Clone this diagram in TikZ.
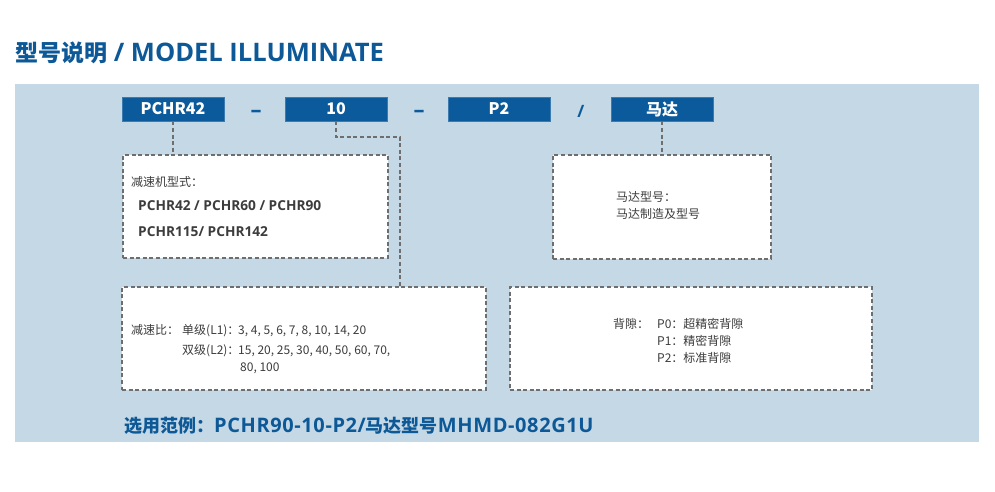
\documentclass[tikz,border=0pt]{standalone}
\usepackage{fontspec}
\newfontfamily\cjk{Noto Sans CJK SC}
\newfontfamily\lat{Open Sans}
\newfontfamily\latwide[LetterSpace=3]{Open Sans}
\usetikzlibrary{positioning}

\definecolor{panelblue}{HTML}{C5D8E6}
\definecolor{tagblue}{HTML}{0B5A9B}
\definecolor{titleblue}{HTML}{0D5896}
\definecolor{dashgray}{HTML}{6E6E6E}
\definecolor{textgray}{HTML}{3C3C3C}

\begin{document}
\begin{tikzpicture}[x=1pt,y=-1pt]
    \tikzset{tag/.style = {rectangle, fill=tagblue, draw=tagblue!80!white, line width=0.6pt,
                           minimum width=102pt, minimum height=24pt, inner sep=0pt,
                           text=white, font=\cjk\bfseries\fontsize{16}{16}\selectfont}}
    \tikzset{sep/.style = {anchor=base, inner sep=0pt, text=tagblue, font=\lat\bfseries\fontsize{22}{22}\selectfont}}
    \tikzset{infobox/.style = {rectangle, fill=white, draw=dashgray, line width=1.1pt,
                               dash pattern=on 4pt off 2.6pt, inner sep=0pt}}
    \tikzset{link/.style = {draw=dashgray, line width=1.1pt, dash pattern=on 4pt off 2.6pt}}
    \tikzset{body/.style = {anchor=base west, inner sep=0pt, text=textgray,
                            font=\cjk\fontsize{12}{14}\selectfont}}
    \tikzset{bodybold/.style = {body, font=\lat\bfseries\fontsize{13.7}{15}\selectfont}}
    \tikzset{heading/.style = {anchor=base west, inner sep=0pt, text=titleblue}}

    \useasboundingbox (0,0) rectangle (995,491);
    \fill[panelblue] (15,84) rectangle (979,442);

    \node (title) [heading, font=\cjk\bfseries\fontsize{23}{23}\selectfont] at (15,61)
        {型号说明{\lat\fontsize{25.5}{25.5}\selectfont\ / MODEL ILLUMINATE}};

    \node (tPCHR) [tag] at (173,109) {PCHR42};
    \node (tRatio) [tag] at (336,109) {10};
    \node (tBack) [tag] at (499,109) {P2};
    \node (tMotor) [tag] at (662,109) {马达};
    \node (sep1) [sep] at (256,117) {–};
    \node (sep2) [sep] at (419,117) {–};
    \node (sep3) [sep, font=\lat\bfseries\fontsize{17}{17}\selectfont] at (581,117) {/};

    \node (typeBox) [infobox, minimum width=265pt, minimum height=103pt] at (255.5,206.5) {};
    \node (motorBox) [infobox, minimum width=218pt, minimum height=104pt] at (662,207) {};
    \node (ratioBox) [infobox, minimum width=364pt, minimum height=103pt] at (304,338.5) {};
    \node (backBox) [infobox, minimum width=362pt, minimum height=103pt] at (691,338.5) {};

    \coordinate (bend) at (400,137);
    \draw[link] (tPCHR.south) -- (tPCHR.south |- typeBox.north);
    \draw[link] (tRatio.south) |- (bend) -- (bend |- ratioBox.north);
    \draw[link] (tMotor.south) -- (tMotor.south |- motorBox.north);

    \node (typeHead) [body] at (131,186) {减速机型式：};
    \node (typeRow1) [bodybold] at (138,210) {PCHR42 / PCHR60 / PCHR90};
    \node (typeRow2) [bodybold] at (138,236) {PCHR115/ PCHR142};

    \node (motorHead) [body] at (616,201) {马达型号：};
    \node (motorRow) [body] at (616,218) {马达制造及型号};

    \node (ratioHead) [body] at (131,334) {减速比：};
    \node (ratioL1) [body] at (182,334) {单级(L1)：};
    \node (ratioV1) [body] at (238,334) {3, 4, 5, 6, 7, 8, 10, 14, 20};
    \node (ratioL2) [body] at (182,354) {双级(L2)：};
    \node (ratioV2) [body] at (238,354) {15, 20, 25, 30, 40, 50, 60, 70,};
    \node (ratioV3) [body] at (240,371) {80, 100};

    \node (backHead) [body] at (613,328) {背隙：};
    \node (backP0) [body] at (657,328) {P0：超精密背隙};
    \node (backP1) [body] at (657,345) {P1：精密背隙};
    \node (backP2) [body] at (657,362) {P2：标准背隙};

    \node (example) [heading, font=\cjk\bfseries\fontsize{18}{18}\selectfont] at (124,432)
        {选用范例：{\latwide\fontsize{20}{20}\selectfont PCHR90-10-P2/}马达型号{\latwide\fontsize{20}{20}\selectfont MHMD-082G1U}};

\end{tikzpicture}
\end{document}
